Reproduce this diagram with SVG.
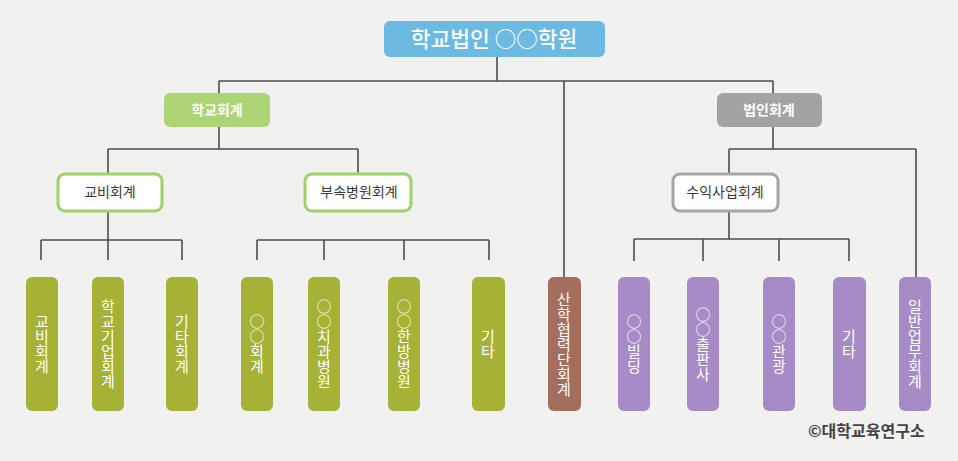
<svg xmlns="http://www.w3.org/2000/svg" width="958" height="461" viewBox="0 0 958 461">
<style>
text{font-family:"Noto Sans CJK KR","Noto Sans",sans-serif}
.lines{stroke:#4d4d4d;stroke-width:1.6;fill:none}
.top{fill:#6cb9e2}
.t-top{fill:#fff;font-size:21.5px;font-weight:500;text-anchor:middle}
.l1g{fill:#add575}
.l1r{fill:#a3a3a3}
.t-l1{fill:#fff;font-size:14px;font-weight:600;text-anchor:middle}
.l2g{fill:#fff;stroke:#9fd16a;stroke-width:3}
.l2r{fill:#fff;stroke:#a6a6a6;stroke-width:3}
.t-l2{fill:#3a3a3a;font-size:14px;text-anchor:middle}
.lg{fill:#a5b235}
.lb{fill:#a36e5e}
.lp{fill:#a68bc6}
.t-v{fill:#fff;font-size:15px;text-anchor:middle;writing-mode:vertical-rl;text-orientation:upright;dominant-baseline:central}
.copy{fill:#444;font-size:16px;font-weight:600}
</style>
<rect x="0" y="0" width="958" height="461" fill="#f1f1f0"/>
<g id="connectors" class="lines">
<path d="M497 57V81M219 81H773M219 81V93M773 81V93M564 81V277"/>
<path d="M219 127V149M108 149H358M108 149V173M358 149V173"/>
<path d="M108 212V240M41 240H182M41 240V260M108 240V260M182 240V260"/>
<path d="M257 240H489M257 240V260M324 240V260M404 240V260M489 240V260"/>
<path d="M773 127V149M729 149H916M729 149V173M916 149V277"/>
<path d="M729 212V239M634 239H849M634 239V261M703 239V261M779 239V261M849 239V261"/>
</g>
<g id="root"><rect class="top" x="384" y="21" width="221" height="36" rx="6"/><text class="t-top" x="494" y="47">학교법인 ○○학원</text></g>
<g id="school"><rect class="l1g" x="164" y="93" width="106" height="34" rx="6"/><text class="t-l1" x="217" y="115">학교회계</text></g>
<g id="corp"><rect class="l1r" x="717" y="93" width="105" height="34" rx="6"/><text class="t-l1" x="769" y="115">법인회계</text></g>
<g id="gyobi"><rect class="l2g" x="58" y="174" width="104" height="37" rx="7"/><text class="t-l2" x="110" y="197">교비회계</text></g>
<g id="hospital"><rect class="l2g" x="305" y="174" width="106" height="37" rx="7"/><text class="t-l2" x="359" y="197">부속병원회계</text></g>
<g id="profit"><rect class="l2r" x="673" y="174" width="105" height="37" rx="7"/><text class="t-l2" x="725" y="197">수익사업회계</text></g>
<g id="leaf1"><rect class="lg" x="26" y="277" width="32" height="134" rx="6"/><text class="t-v" x="42" y="344">교비회계</text></g>
<g id="leaf2"><rect class="lg" x="92" y="277" width="32" height="134" rx="6"/><text class="t-v" x="108" y="344">학교기업회계</text></g>
<g id="leaf3"><rect class="lg" x="166" y="277" width="32" height="134" rx="6"/><text class="t-v" x="182" y="344">기타회계</text></g>
<g id="leaf4"><rect class="lg" x="241" y="277" width="32" height="134" rx="6"/><text class="t-v" x="257" y="344">○○회계</text></g>
<g id="leaf5"><rect class="lg" x="308" y="277" width="32" height="134" rx="6"/><text class="t-v" x="324" y="344">○○치과병원</text></g>
<g id="leaf6"><rect class="lg" x="388" y="277" width="32" height="134" rx="6"/><text class="t-v" x="404" y="344">○○한방병원</text></g>
<g id="leaf7"><rect class="lg" x="472" y="277" width="33" height="134" rx="6"/><text class="t-v" x="488" y="344">기타</text></g>
<g id="leaf8"><rect class="lb" x="548" y="277" width="33" height="134" rx="6"/><text class="t-v" x="564" y="344">산학협력단회계</text></g>
<g id="leaf9"><rect class="lp" x="618" y="277" width="32" height="134" rx="6"/><text class="t-v" x="634" y="344">○○빌딩</text></g>
<g id="leaf10"><rect class="lp" x="687" y="277" width="32" height="134" rx="6"/><text class="t-v" x="703" y="344">○○출판사</text></g>
<g id="leaf11"><rect class="lp" x="763" y="277" width="32" height="134" rx="6"/><text class="t-v" x="779" y="344">○○관광</text></g>
<g id="leaf12"><rect class="lp" x="833" y="277" width="33" height="134" rx="6"/><text class="t-v" x="849" y="344">기타</text></g>
<g id="leaf13"><rect class="lp" x="899" y="277" width="32" height="134" rx="6"/><text class="t-v" x="915" y="344">일반업무회계</text></g>
<text class="copy" x="808" y="437">©대학교육연구소</text>
</svg>
